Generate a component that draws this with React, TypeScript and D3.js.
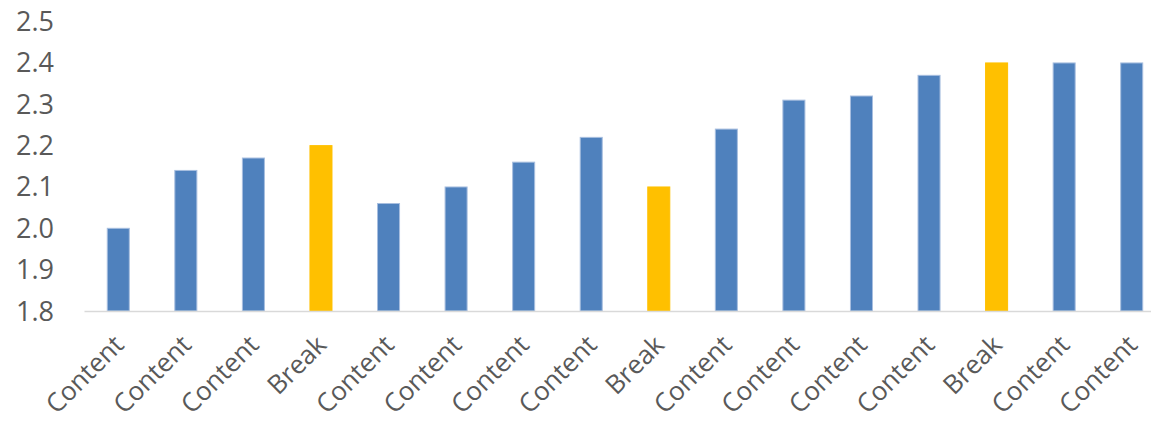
import React from "react";
import * as d3 from "d3";

const categories = ["Content","Content","Content","Break","Content","Content","Content","Content","Break","Content","Content","Content","Content","Break","Content","Content"];
const values = [2.0,2.14,2.17,2.2,2.06,2.1,2.16,2.22,2.1,2.24,2.31,2.32,2.37,2.4,2.4,2.4];
const yTicks = [1.8,1.9,2.0,2.1,2.2,2.3,2.4,2.5];

const W = 1151, H = 423;
const BLUE = "#4F81BD", GOLD = "#FFC000";

export default function App() {
  const x = d3.scaleBand<number>().domain(d3.range(categories.length)).range([84.5, 1165.5]).paddingInner(0.674).paddingOuter(0.337);
  const y = d3.scaleLinear().domain([1.8, 2.5]).range([311, 21.6]);
  const font = "'Open Sans', 'Liberation Sans', sans-serif";
  return (
    <svg width={W} height={H} style={{ position: "absolute", left: 0, top: 0 }}>
      <rect width={W} height={H} fill="#fff" />
      {yTicks.map(t => (
        <text key={t} x={54} y={y(t) + 9.5} textAnchor="end" fontFamily={font} fontSize={27} fill="#595959">{t.toFixed(1)}</text>
      ))}
      {values.map((v, i) => {
        const isBreak = categories[i] === "Break";
        return (
          <rect key={i} x={x(i)!} y={y(v)} width={x.bandwidth()} height={y(1.8) - y(v)}
            fill={isBreak ? GOLD : BLUE} stroke={isBreak ? GOLD : "#A7BEDF"} strokeWidth={1} />
        );
      })}
      <line x1={84.5} x2={W} y1={y(1.8) + 0.5} y2={y(1.8) + 0.5} stroke="#D9D9D9" strokeWidth={1.5} />
      {categories.map((c, i) => {
        const cx = x(i)! + x.bandwidth() / 2 + 7;
        const cy = 346.5;
        return (
          <text key={i} transform={`translate(${cx},${cy}) rotate(-45)`} textAnchor="end" fontFamily={font} fontSize={26} fill="#595959">{c}</text>
        );
      })}
    </svg>
  );
}
